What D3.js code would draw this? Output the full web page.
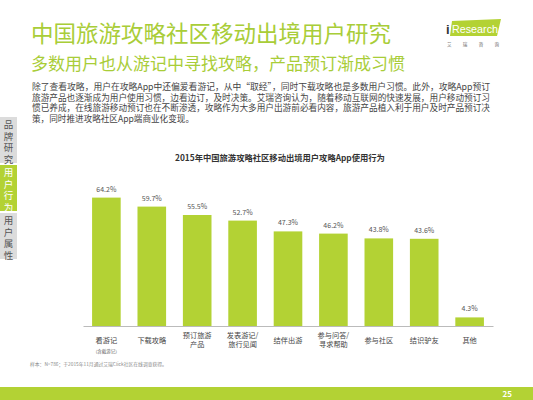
<!DOCTYPE html>
<html>
<head>
<meta charset="utf-8">
<script src="https://cdn.jsdelivr.net/npm/d3@7"></script>
<style>
body { margin: 0; background: #fff; }
svg { display: block; font-family: "Noto Sans CJK SC", "Noto Sans", sans-serif; }
</style>
</head>
<body>
<script>
// chart data
const categories = [["看游记"], ["下载攻略"], ["预订旅游", "产品"], ["发表游记/", "旅行见闻"], ["结伴出游"],
  ["参与问答/", "寻求帮助"], ["参与社区"], ["结识驴友"], ["其他"]];
const values = [64.2, 59.7, 55.5, 52.7, 47.3, 46.2, 43.8, 43.6, 4.3];
const sideTabs = ["品牌研究", "用户行为", "用户属性"];
const bodyLines = [
  "除了查看攻略，用户在攻略App中还偏爱看游记，从中“取经”，同时下载攻略也是多数用户习惯。此外，攻略App预订",
  "旅游产品也逐渐成为用户使用习惯，边看边订，及时决策。艾瑞咨询认为，随着移动互联网的快速发展，用户移动预订习",
  "惯已养成，在线旅游移动预订也在不断渗透，攻略作为大多用户出游前必看内容，旅游产品植入利于用户及时产品预订决",
  "策，同时推进攻略社区App端商业化变现。"
];

const W = 533, H = 400;
const green = "#a9cd38";
const barGreen = "#b3d234";

const svg = d3.select("body").append("svg")
  .attr("width", W)
  .attr("height", H);

// headings
svg.append("text")
  .attr("x", 31).attr("y", 42)
  .text("中国旅游攻略社区移动出境用户研究")
  .style("fill", green)
  .style("font-size", "22.5px");

svg.append("text")
  .attr("x", 31).attr("y", 70)
  .text("多数用户也从游记中寻找攻略，产品预订渐成习惯")
  .style("fill", green)
  .style("font-size", "17px");

svg.append("g").selectAll("text")
  .data(bodyLines)
  .enter().append("text")
  .attr("x", 32)
  .attr("y", (d, i) => 90 + i * 10.6)
  .attr("textLength", (d, i) => i < 3 ? 458 : null)
  .attr("lengthAdjust", "spacingAndGlyphs")
  .text(d => d)
  .style("fill", "#444")
  .style("font-size", "8.6px");

// logo
const logo = svg.append("g");
logo.append("path")
  .attr("d", "M452,21 L501,19 L497,36 L450,36 Z")
  .attr("fill", barGreen);
logo.append("text")
  .attr("x", 446).attr("y", 34)
  .text("i")
  .style("fill", "#333")
  .style("font-size", "13px")
  .style("font-weight", "bold")
  .style("font-family", "'Liberation Sans', sans-serif");
logo.append("text")
  .attr("x", 452).attr("y", 33)
  .attr("textLength", 46)
  .attr("lengthAdjust", "spacingAndGlyphs")
  .text("Research")
  .style("fill", "#fff")
  .style("font-size", "11.5px")
  .style("font-family", "'Liberation Sans', sans-serif");
logo.append("text")
  .attr("x", 447).attr("y", 46)
  .attr("textLength", 52)
  .text("艾瑞咨询")
  .style("fill", "#666")
  .style("font-size", "4.5px");

// side tabs
const tabs = svg.append("g");
sideTabs.forEach((label, i) => {
  const y0 = 117 + i * 48;
  const active = i === 1;
  tabs.append("rect")
    .attr("x", 0).attr("y", y0)
    .attr("width", 17).attr("height", 46)
    .attr("fill", active ? barGreen : "#dcdcdc");
  tabs.append("text")
    .attr("x", 8.5)
    .attr("y", y0 + 3)
    .style("writing-mode", "vertical-rl")
    .style("letter-spacing", "2px")
    .text(label)
    .style("fill", active ? "#fff" : "#555")
    .style("font-size", "9.5px");
});

// chart
const baseY = 326;
const x = d3.scaleBand()
  .domain(d3.range(values.length))
  .range([83, 493])
  .paddingInner(0.37)
  .paddingOuter(0.2);

const y = d3.scaleLinear()
  .domain([0, 100])
  .range([baseY, baseY - 200]);

svg.append("text")
  .attr("x", 280).attr("y", 161)
  .attr("text-anchor", "middle")
  .text("2015年中国旅游攻略社区移动出境用户攻略App使用行为")
  .style("fill", "#333")
  .style("font-size", "8.3px")
  .style("font-weight", "bold");

svg.append("g").selectAll("rect")
  .data(values)
  .enter().append("rect")
  .attr("x", (d, i) => x(i))
  .attr("y", d => y(d))
  .attr("width", x.bandwidth())
  .attr("height", d => baseY - y(d))
  .attr("fill", barGreen);

svg.append("g").selectAll("text")
  .data(values)
  .enter().append("text")
  .attr("x", (d, i) => x(i) + x.bandwidth() / 2)
  .attr("y", d => y(d) - 6)
  .attr("text-anchor", "middle")
  .text(d => d.toFixed(1) + "%")
  .style("fill", "#555")
  .style("font-size", "7px");

// baseline
svg.append("g")
  .attr("transform", "translate(0," + baseY + ")")
  .call(d3.axisBottom(d3.scaleLinear().range([83, 493])).ticks(0).tickSize(0))
  .call(g => g.select(".domain").attr("stroke", "#bbb"))
  .selectAll("text").remove();

// category labels
const catG = svg.append("g");
categories.forEach((lines, i) => {
  const cx = x(i) + x.bandwidth() / 2;
  const startY = lines.length === 1 ? 343 : 338;
  lines.forEach((ln, j) => {
    catG.append("text")
      .attr("x", cx)
      .attr("y", startY + j * 9)
      .attr("text-anchor", "middle")
      .text(ln)
      .style("fill", "#444")
      .style("font-size", "7.2px");
  });
});
catG.append("text")
  .attr("x", x(0) + x.bandwidth() / 2)
  .attr("y", 353)
  .attr("text-anchor", "middle")
  .text("（含截游记）")
  .style("fill", "#666")
  .style("font-size", "4.5px");

// source note
svg.append("text")
  .attr("x", 30).attr("y", 366)
  .text("样本：N=786；于2015年11月通过艾瑞Click社区在线调查获得。")
  .style("fill", "#888")
  .style("font-size", "4.8px");

// footer
svg.append("rect")
  .attr("x", 0).attr("y", 387)
  .attr("width", W).attr("height", 13)
  .attr("fill", barGreen);
svg.append("text")
  .attr("x", 512).attr("y", 397)
  .attr("text-anchor", "end")
  .text("25")
  .style("fill", "#fff")
  .style("font-size", "8px")
  .style("font-weight", "bold");
</script>
</body>
</html>
